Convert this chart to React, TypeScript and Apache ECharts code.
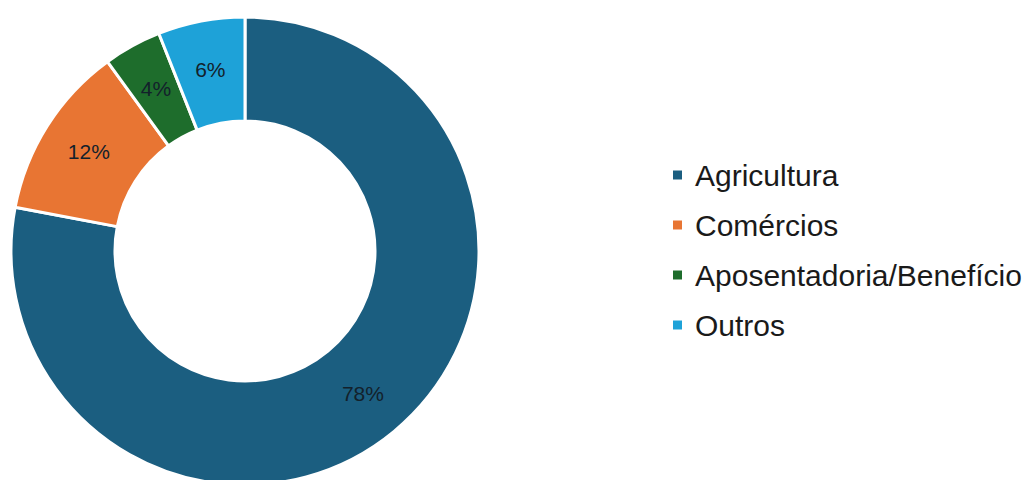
import React, { useEffect, useRef } from "react";
import * as echarts from "echarts";

const categories = ["Agricultura", "Comércios", "Aposentadoria/Benefício", "Outros"];
const values = [78, 12, 4, 6];
const colors = ["#1b5e80", "#e87533", "#1e6d2c", "#1ea2d8"];

export default function App() {
  const ref = useRef<HTMLDivElement>(null);
  useEffect(() => {
    if (!ref.current) return;
    const chart = echarts.init(ref.current, null, { renderer: "svg" });
    chart.setOption({
      animation: false,
      backgroundColor: "#ffffff",
      color: colors,
      legend: {
        orient: "vertical",
        left: 666,
        top: 155,
        itemWidth: 11,
        itemHeight: 11,
        itemGap: 20,
        icon: "rect",
        data: categories,
        textStyle: {
          fontFamily: "Liberation Sans, Arial, sans-serif",
          fontSize: 30,
          lineHeight: 30,
          color: "#1a1a1a",
          padding: [0, 0, 0, 7],
        },
      },
      series: [
        {
          type: "pie",
          center: [245, 251],
          radius: [130, 234],
          startAngle: 90,
          clockwise: true,
          avoidLabelOverlap: false,
          itemStyle: { borderColor: "#ffffff", borderWidth: 3 },
          label: {
            show: true,
            position: "inside",
            formatter: "{d}%",
            fontFamily: "Liberation Sans, Arial, sans-serif",
            fontSize: 21,
            color: "#13212b",
          },
          labelLine: { show: false },
          emphasis: { disabled: true },
          data: categories.map((name, i) => ({ name, value: values[i] })),
        },
      ],
    });
    return () => chart.dispose();
  }, []);
  return (
    <div
      ref={ref}
      style={{ position: "fixed", left: 0, top: 0, width: 1035, height: 480 }}
    />
  );
}
